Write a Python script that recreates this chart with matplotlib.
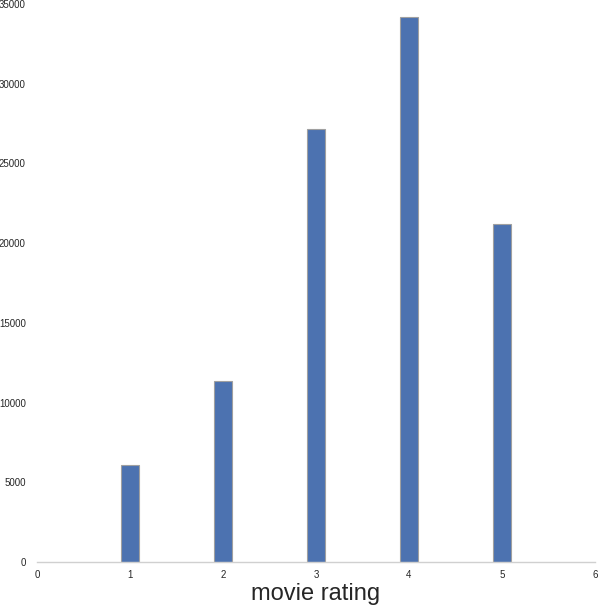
import numpy as np
import matplotlib
matplotlib.use("Agg")
import matplotlib.pyplot as plt

# rating counts
ratings = [1, 2, 3, 4, 5]
counts = [6110, 11370, 27145, 34174, 21201]
xticks = [0, 1, 2, 3, 4, 5, 6]
yticks = list(range(0, 35001, 5000))

plt.rcParams['font.family'] = ['Liberation Sans', 'DejaVu Sans']

fig = plt.figure(figsize=(5.98, 6.08), dpi=100)
ax = fig.add_axes([37/598, 46/608, 558/598, 558/608])

ax.bar(ratings, counts, width=0.2, align='center', color='#4C72B0',
       edgecolor='#a0a0a0', linewidth=0.8)

ax.set_xlim(0, 6)
ax.set_ylim(0, 35000)
ax.set_xticks(xticks)
ax.set_yticks(yticks)
ax.tick_params(axis='both', length=0, labelsize=7, colors='#262626')
ax.tick_params(axis='y', pad=8)
ax.tick_params(axis='x', pad=6)

for s in ['top', 'left', 'right']:
    ax.spines[s].set_visible(False)
ax.spines['bottom'].set_color('#d0d0d0')
ax.spines['bottom'].set_linewidth(1)

ax.set_xlabel('movie rating', fontsize=17, color='#262626', labelpad=2)

fig.savefig('out.png', dpi=100)
